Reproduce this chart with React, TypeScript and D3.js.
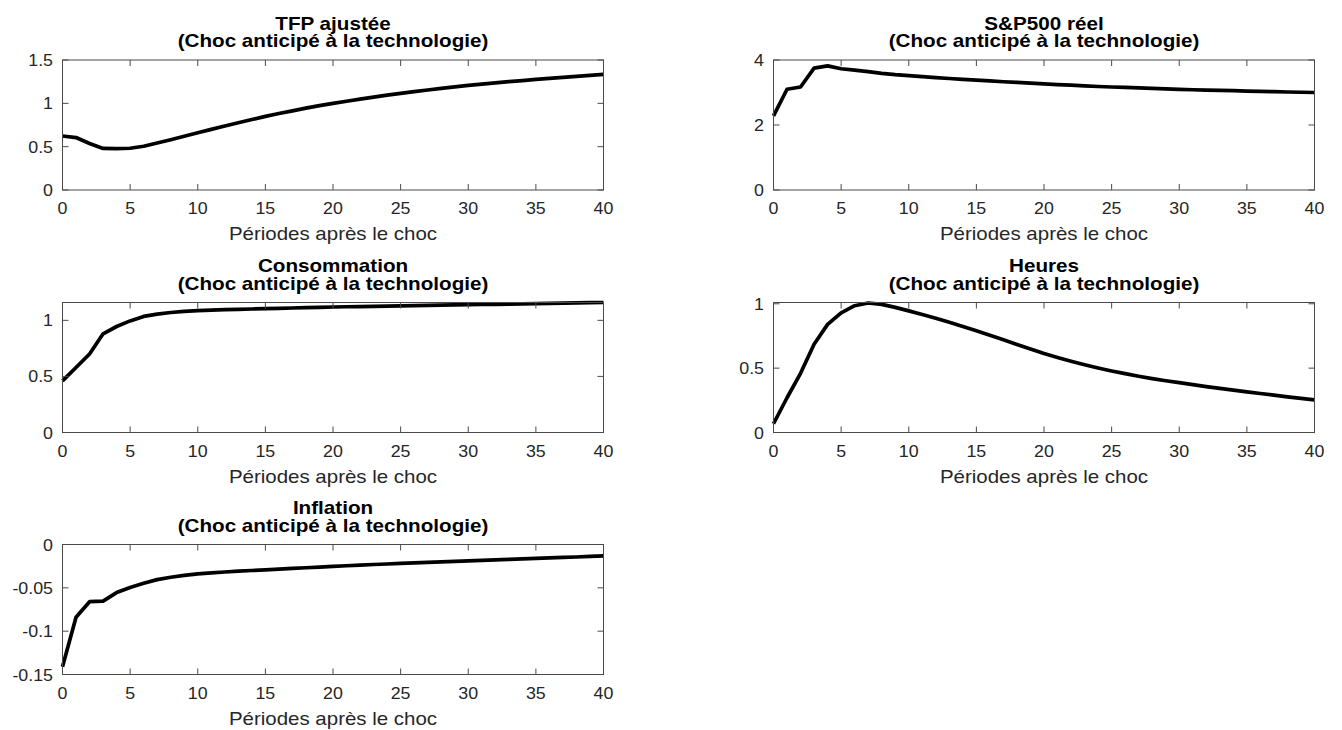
import React from "react";
import * as d3 from "d3";

const periods: number[] = d3.range(0, 41);

const tfpValues = [0.623, 0.605, 0.537, 0.48, 0.478, 0.482, 0.505, 0.542, 0.58, 0.62, 0.66, 0.7, 0.738, 0.776, 0.813, 0.85, 0.882, 0.913, 0.944, 0.973, 1.0, 1.024, 1.048, 1.071, 1.094, 1.115, 1.135, 1.154, 1.172, 1.19, 1.207, 1.222, 1.236, 1.25, 1.263, 1.276, 1.288, 1.3, 1.312, 1.323, 1.334];
const spValues = [2.28, 3.1, 3.17, 3.75, 3.82, 3.73, 3.69, 3.64, 3.59, 3.55, 3.52, 3.49, 3.46, 3.43, 3.405, 3.38, 3.355, 3.33, 3.31, 3.29, 3.265, 3.245, 3.225, 3.205, 3.185, 3.17, 3.155, 3.14, 3.125, 3.11, 3.095, 3.085, 3.075, 3.065, 3.055, 3.045, 3.035, 3.025, 3.015, 3.007, 3.0];
const consValues = [0.46, 0.58, 0.7, 0.88, 0.945, 0.995, 1.035, 1.055, 1.07, 1.08, 1.087, 1.091, 1.095, 1.098, 1.101, 1.104, 1.107, 1.11, 1.113, 1.116, 1.119, 1.121, 1.123, 1.125, 1.127, 1.129, 1.131, 1.133, 1.135, 1.137, 1.139, 1.141, 1.143, 1.145, 1.147, 1.149, 1.151, 1.153, 1.155, 1.157, 1.159];
const hoursValues = [0.068, 0.27, 0.46, 0.685, 0.84, 0.93, 0.985, 1.006, 0.995, 0.972, 0.945, 0.917, 0.887, 0.856, 0.824, 0.791, 0.756, 0.72, 0.684, 0.648, 0.613, 0.582, 0.553, 0.526, 0.501, 0.478, 0.457, 0.437, 0.419, 0.402, 0.387, 0.372, 0.357, 0.343, 0.329, 0.316, 0.303, 0.29, 0.277, 0.265, 0.253];
const inflValues = [-0.141, -0.084, -0.066, -0.0654, -0.0555, -0.0495, -0.0448, -0.0405, -0.0378, -0.0357, -0.0338, -0.0327, -0.0317, -0.0308, -0.03, -0.0292, -0.0284, -0.0276, -0.0268, -0.026, -0.0252, -0.0245, -0.0238, -0.0231, -0.0225, -0.0218, -0.0212, -0.0207, -0.0201, -0.0195, -0.019, -0.0184, -0.0178, -0.0172, -0.0167, -0.0161, -0.0155, -0.0149, -0.0144, -0.0138, -0.0132];

const xTicks = [0, 5, 10, 15, 20, 25, 30, 35, 40];
const xTickLabels = ["0", "5", "10", "15", "20", "25", "30", "35", "40"];

const titles = ["TFP ajustée", "S&P500 réel", "Consommation", "Heures", "Inflation"];
const subtitle = "(Choc anticipé à la technologie)";
const xLabel = "Périodes après le choc";

const yDomains: [number, number][] = [[0, 1.5], [0, 4], [0, 1.159], [0, 1.01], [-0.15, 0]];
const yTicks: number[][] = [[0, 0.5, 1, 1.5], [0, 2, 4], [0, 0.5, 1], [0, 0.5, 1], [-0.15, -0.1, -0.05, 0]];
const yTickLabels: string[][] = [["0", "0.5", "1", "1.5"], ["0", "2", "4"], ["0", "0.5", "1"], ["0", "0.5", "1"], ["-0.15", "-0.1", "-0.05", "0"]];
const seriesList = [tfpValues, spValues, consValues, hoursValues, inflValues];

const FONT = "'Liberation Sans', Arial, Helvetica, sans-serif";
const colX = [62.5, 773.5];
const rowY = [60, 302.5, 544.5];
const PW = 541;
const PH = 130;
const TICK = 6;

function T({ x, y, anchor = "middle", sx = 1.2, size = 16, weight = "normal", fill = "#262626", children }: any) {
  return (
    <text
      transform={`translate(${x},${y}) scale(${sx},1)`}
      textAnchor={anchor}
      fontSize={size}
      fontWeight={weight}
      fontFamily={FONT}
      fill={fill}
    >
      {children}
    </text>
  );
}

function Panel({ idx }: { idx: number }) {
  const col = idx % 2;
  const row = Math.floor(idx / 2);
  const x0 = colX[col];
  const y0 = rowY[row];
  const x = d3.scaleLinear().domain([0, 40]).range([x0, x0 + PW]);
  const y = d3.scaleLinear().domain(yDomains[idx]).range([y0 + PH, y0]);
  const data = seriesList[idx];
  const line = d3
    .line<number>()
    .x((_, i) => x(periods[i]))
    .y((d) => y(d));
  const axisColor = "#4a4a4a";
  return (
    <g>
      <path d={line(data) || ""} fill="none" stroke="#000" strokeWidth={3.7} strokeLinejoin="round" strokeLinecap="butt" />
      <rect x={x0} y={y0} width={PW} height={PH} fill="none" stroke={axisColor} strokeWidth={1} />
      {xTicks.map((t, i) => (
        <g key={"xt" + i}>
          <line x1={x(t)} x2={x(t)} y1={y0 + PH} y2={y0 + PH - TICK} stroke={axisColor} />
          <line x1={x(t)} x2={x(t)} y1={y0} y2={y0 + TICK} stroke={axisColor} />
          <T x={x(t)} y={y0 + PH + 24} size={16.5} sx={1.08}>{xTickLabels[i]}</T>
        </g>
      ))}
      {yTicks[idx].map((t, i) => (
        <g key={"yt" + i}>
          <line x1={x0} x2={x0 + TICK} y1={y(t)} y2={y(t)} stroke={axisColor} />
          <line x1={x0 + PW} x2={x0 + PW - TICK} y1={y(t)} y2={y(t)} stroke={axisColor} />
          <T x={x0 - 9.5} y={y(t) + 6} anchor="end" size={16.5} sx={1.08}>{yTickLabels[idx][i]}</T>
        </g>
      ))}
      <T x={x0 + PW / 2} y={y0 + PH + 50} size={17.5} sx={1.17}>{xLabel}</T>
      <T x={x0 + PW / 2} y={y0 - 30.5} size={17.5} sx={1.18} weight="bold" fill="#000">{titles[idx]}</T>
      <T x={x0 + PW / 2} y={y0 - 13} size={17.5} sx={1.18} weight="bold" fill="#000">{subtitle}</T>
    </g>
  );
}

export default function App() {
  return (
    <svg width={1342} height={730} style={{ position: "absolute", left: 0, top: 0, background: "#fff" }}>
      <rect x={0} y={0} width={1342} height={730} fill="#fff" />
      {seriesList.map((_, i) => (
        <Panel key={i} idx={i} />
      ))}
    </svg>
  );
}
